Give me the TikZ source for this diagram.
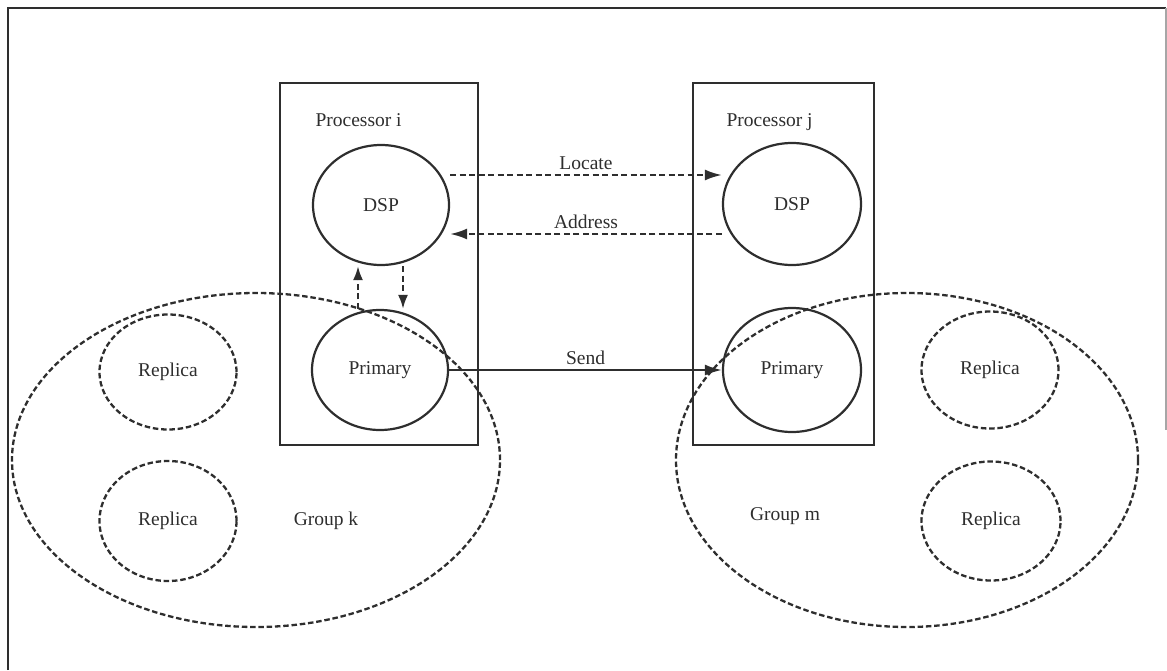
\documentclass[tikz,border=0pt]{standalone}
\usepackage{fontspec}
\setmainfont{Liberation Serif}
\usetikzlibrary{shapes.geometric,arrows.meta,calc}
\definecolor{ink}{HTML}{2E2E2E}
\begin{document}
\begin{tikzpicture}[x=1pt,y=-1pt,
  every node/.style={font=\fontsize{19.5}{23}\selectfont, text=ink},
  procbox/.style={draw=ink, line width=2.2pt, rectangle},
  solidell/.style={draw=ink, line width=2.2pt, ellipse, inner sep=0pt},
  dashell/.style={draw=ink, line width=2.3pt, ellipse, inner sep=0pt, dash pattern=on 5.5pt off 2.8pt},
  lbl/.style={anchor=base west},
  msg/.style={draw=ink, line width=2.2pt, -{Latex[length=17pt,width=11pt]}},
  dmsg/.style={msg, dash pattern=on 6pt off 3.5pt},
  vmsg/.style={msg, dash pattern=on 6pt off 3.5pt, -{Latex[length=14pt,width=10pt]}},
]
\useasboundingbox (0,0) rectangle (1167,670);

% frame
\draw[ink, line width=2pt] (8,670) -- (8,8) -- (1166,8);
\draw[gray!70, line width=1.5pt] (1166,8) -- (1166,430);

% groups
\node[dashell, minimum width=488pt, minimum height=334pt] (grpk) at (256,460) {};
\node[dashell, minimum width=462pt, minimum height=334pt] (grpm) at (907,460) {};

% processors
\node[procbox, minimum width=198pt, minimum height=362pt] (proci) at (379,264) {};
\node[procbox, minimum width=181pt, minimum height=362pt] (procj) at (783.5,264) {};
\node[lbl] (proclbli) at (312,126) {Processor i};
\node[lbl] (proclblj) at (723,126) {Processor j};

% processes
\node[solidell, minimum width=136pt, minimum height=120pt] (dspi) at (381,205) {DSP};
\node[solidell, minimum width=138pt, minimum height=122pt] (dspj) at (792,204) {DSP};
\node[solidell, minimum width=136pt, minimum height=120pt] (primi) at (380,370) {Primary};
\node[solidell, minimum width=138pt, minimum height=124pt] (primj) at (792,370) {Primary};

% replicas
\node[dashell, minimum width=137pt, minimum height=115pt] (rep1) at (168,372) {Replica};
\node[dashell, minimum width=137pt, minimum height=120pt] (rep2) at (168,521) {Replica};
\node[dashell, minimum width=137pt, minimum height=117pt] (rep3) at (990,370) {Replica};
\node[dashell, minimum width=139pt, minimum height=119pt] (rep4) at (991,521) {Replica};

\node (grplblk) at (326,521) {Group k};
\node (grplblm) at (785,516) {Group m};

% messages
\draw[dmsg] (dspi.east |- 0,175) -- node[above=1pt] (loc) {Locate} (dspj.west |- 0,175);
\draw[dmsg] (dspj.west |- 0,234) -- node[above=1pt] (adr) {Address} (dspi.east |- 0,234);
\draw[msg] (primi.east) -- node[above=1pt] (snd) {Send} (primj.west);
\draw[vmsg] (primi.north -| 358,0) -- (dspi.south -| 358,0);
\draw[vmsg] (dspi.south -| 403,0) -- (primi.north -| 403,0);
\end{tikzpicture}
\end{document}
